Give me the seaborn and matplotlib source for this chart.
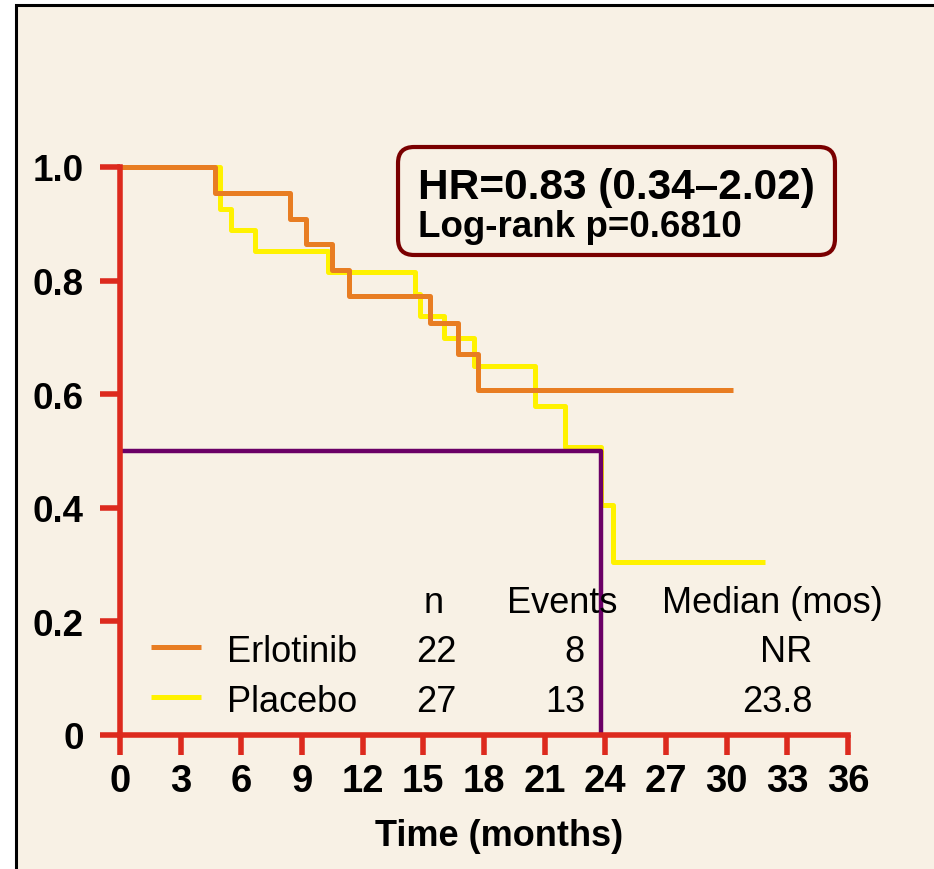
import numpy as np
import pandas as pd
import matplotlib
matplotlib.use("Agg")
import matplotlib.pyplot as plt
from matplotlib.patches import FancyBboxPatch, Rectangle
from matplotlib.lines import Line2D
from matplotlib.colors import to_hex
import seaborn as sns

# Kaplan-Meier step data (months, survival probability)
erlotinib_time = [0, 4.7, 8.4, 9.2, 10.5, 11.3, 15.35, 16.7, 17.7, 30.3]
erlotinib_surv = [1.0, 0.955, 0.909, 0.864, 0.818, 0.773, 0.725, 0.670, 0.607, 0.607]
placebo_time = [0, 4.95, 5.5, 6.7, 10.3, 14.6, 14.85, 16.0, 17.5, 20.5, 22.0, 23.8, 24.4, 31.9]
placebo_surv = [1.0, 0.926, 0.889, 0.852, 0.815, 0.776, 0.738, 0.699, 0.650, 0.579, 0.507, 0.405, 0.305, 0.305]

groups = ["Erlotinib", "Placebo"]
n_patients = [22, 27]
n_events = [8, 13]
median_labels = ["NR", "23.8"]
placebo_median = 23.8

x_ticks = [0, 3, 6, 9, 12, 15, 18, 21, 24, 27, 30, 33, 36]
y_ticks = [0, 0.2, 0.4, 0.6, 0.8, 1.0]
y_tick_labels = ["0", "0.2", "0.4", "0.6", "0.8", "1.0"]

hr_text = "HR=0.83 (0.34\u20132.02)"
p_text = "Log-rank p=0.6810"

CREAM = "#f8f1e5"
RED = "#dd2a1e"
ORANGE = "#e87d22"
YELLOW = "#fff200"
PURPLE = "#6b0066"
BOX_EDGE = "#7a0000"

sns.set_theme(style="white")
plt.rcParams["font.family"] = ["Liberation Sans", "DejaVu Sans"]
plt.rcParams["text.color"] = "black"
plt.rcParams["axes.labelcolor"] = "black"

fig = plt.figure(figsize=(9.34, 8.7), dpi=100)
fig.patch.set_facecolor("white")
# cream panel with a black frame on its top and left edges
panel = Rectangle((16 / 934, -0.1), 1.2, 1.1 - 6 / 870, transform=fig.transFigure,
                  facecolor=CREAM, edgecolor="black", linewidth=2.2, zorder=-10)
fig.add_artist(panel)

ax = fig.add_axes([120 / 934, 134 / 870, 728 / 934, 568 / 870])
ax.patch.set_alpha(0)

km = pd.concat([
    pd.DataFrame({"time": erlotinib_time, "surv": erlotinib_surv, "arm": groups[0]}),
    pd.DataFrame({"time": placebo_time, "surv": placebo_surv, "arm": groups[1]}),
])
sns.lineplot(data=km, x="time", y="surv", hue="arm", palette=[ORANGE, YELLOW],
             estimator=None, sort=False, drawstyle="steps-post", linewidth=3.6,
             legend=False, ax=ax)

# median survival guide for placebo
med = pd.DataFrame({"time": [0, placebo_median, placebo_median], "surv": [0.5, 0.5, 0]})
sns.lineplot(data=med, x="time", y="surv", estimator=None, sort=False, color=PURPLE,
             linewidth=3.2, ax=ax)
layer = {ORANGE: 2.6, YELLOW: 2.3, PURPLE: 2.8}
for ln in ax.lines:
    ln.set_clip_on(False)
    ln.set_solid_capstyle("butt")
    ln.set_zorder(layer.get(to_hex(ln.get_color()), 2.5))

ax.set_xlim(0, 36)
ax.set_ylim(0, 1)
ax.set_xticks(x_ticks)
ax.set_xticklabels([str(t) for t in x_ticks])
ax.set_yticks(y_ticks)
ax.set_yticklabels(y_tick_labels)
for s in ["top", "right"]:
    ax.spines[s].set_visible(False)
for s in ["left", "bottom"]:
    ax.spines[s].set_color(RED)
    ax.spines[s].set_linewidth(4)
    ax.spines[s].set_zorder(5)
ax.tick_params(axis="both", direction="out", length=14.5, width=4, color=RED,
               labelcolor="black")
ax.tick_params(axis="x", pad=6, labelsize=27.5, bottom=True)
ax.tick_params(axis="y", pad=11.5, labelsize=26.5, left=True)
for lab in ax.get_xticklabels() + ax.get_yticklabels():
    lab.set_fontweight("bold")

ax.set_ylabel("")
ax.set_xlabel("Time (months)", fontsize=26, fontweight="bold", color="black")
ax.xaxis.set_label_coords(0.5206, -0.1937)
ax.xaxis.label.set_verticalalignment("baseline")

# hazard-ratio box
box = FancyBboxPatch((0.3819, 0.8451), 0.6002, 0.1901,
                     boxstyle="round,pad=0,rounding_size=0.022", mutation_aspect=728 / 568,
                     transform=ax.transAxes, facecolor=CREAM, edgecolor=BOX_EDGE,
                     linewidth=3, clip_on=False, zorder=6)
ax.add_patch(box)
ax.text(0.4093, 0.9454, hr_text, transform=ax.transAxes, fontsize=30.5, fontweight="bold",
        ha="left", va="baseline", zorder=7)
ax.text(0.4093, 0.8785, p_text, transform=ax.transAxes, fontsize=26.5, fontweight="bold",
        ha="left", va="baseline", zorder=7)

# legend table
tf = ax.transAxes
ax.text(0.4306, 0.2165, "n", transform=tf, fontsize=26, ha="center", va="baseline")
ax.text(0.607, 0.2165, "Events", transform=tf, fontsize=26, ha="center", va="baseline")
ax.text(0.8956, 0.2165, "Median (mos)", transform=tf, fontsize=26, ha="center", va="baseline")
row_base = [0.1303, 0.0423]
key_y = [0.155, 0.0669]
for i, (g, c) in enumerate(zip(groups, [ORANGE, YELLOW])):
    ax.add_line(Line2D([0.0426, 0.111], [key_y[i], key_y[i]], transform=tf, color=c,
                       linewidth=3.6, solid_capstyle="butt", clip_on=False))
    ax.text(0.147, row_base[i], g, transform=tf, fontsize=26, ha="left", va="baseline")
    ax.text(0.434, row_base[i], str(n_patients[i]), transform=tf, fontsize=26,
            ha="center", va="baseline")
    ax.text(0.6387, row_base[i], str(n_events[i]), transform=tf, fontsize=26,
            ha="right", va="baseline")
    ax.text(0.951, row_base[i], median_labels[i], transform=tf, fontsize=26,
            ha="right", va="baseline")

fig.savefig("out.png", dpi=100, facecolor=fig.get_facecolor())
